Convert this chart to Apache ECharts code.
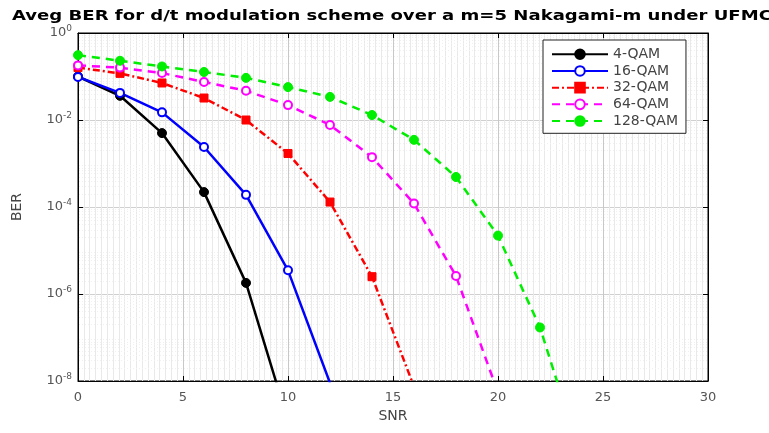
<!DOCTYPE html>
<html>
<head>
<meta charset="utf-8">
<script src="https://cdn.jsdelivr.net/npm/echarts@6/dist/echarts.min.js"></script>
<style>
  html, body { margin: 0; padding: 0; background: #fff; }
  #chart { width: 769px; height: 433px; }
</style>
</head>
<body>
<div id="chart"></div>
<script>
// SNR sample points (dB)
const snr = [0, 2, 4, 6, 8, 10, 12, 14, 16, 18, 20, 22, 24];

// Average BER per modulation order
const ber4qam   = [0.1, 0.036, 0.005, 2.2e-4, 1.8e-6, 1.2e-9];
const ber16qam  = [0.098, 0.042, 0.015, 0.0024, 1.9e-4, 3.5e-6, 9e-9];
const ber32qam  = [0.16, 0.118, 0.071, 0.032, 0.010, 0.0017, 1.3e-4, 2.5e-6, 7.4e-9];
const ber64qam  = [0.18, 0.16, 0.12, 0.075, 0.047, 0.022, 0.0077, 0.0014, 1.2e-4, 2.6e-6, 5.4e-9];
const ber128qam = [0.31, 0.23, 0.17, 0.127, 0.093, 0.057, 0.034, 0.013, 0.0035, 4.9e-4, 2.2e-5, 1.7e-7, 1.5e-10];

const seriesNames = ['4-QAM', '16-QAM', '32-QAM', '64-QAM', '128-QAM'];
const xTicks = [0, 5, 10, 15, 20, 25, 30];
const yTickExponents = [0, -2, -4, -6, -8];
const titleText = 'Aveg BER for d/t modulation scheme over a m=5 Nakagami-m under UFMC';

const FONT = 'DejaVu Sans';
const GRID = { left: 78, right: 61, top: 33, bottom: 52 };

function pairs(vals) {
  return vals.map((v, i) => [snr[i], v]);
}

function makeSeries(name, vals, color, lineType, symbol, size) {
  return {
    name: name,
    type: 'line',
    data: pairs(vals),
    clip: true,
    symbol: symbol,
    symbolSize: size,
    showAllSymbol: true,
    lineStyle: { color: color, width: 2.5, type: lineType },
    itemStyle: { color: color, borderColor: color, borderWidth: symbol === 'emptyCircle' ? 2.5 : 1 },
    emphasis: { disabled: true },
    z: 3
  };
}

const chart = echarts.init(document.getElementById('chart'), null, { renderer: 'canvas' });

const option = {
  animation: false,
  backgroundColor: '#fff',
  textStyle: { fontFamily: FONT },
  grid: Object.assign({ show: true, borderColor: '#000', borderWidth: 1, containLabel: false }, GRID),
  legend: {
    orient: 'vertical',
    left: 543,
    top: 40,
    itemWidth: 56,
    itemHeight: 12,
    itemGap: 2.2,
    padding: [7, 8, 5, 8],
    backgroundColor: '#fff',
    borderColor: '#222',
    borderWidth: 1,
    borderRadius: 0,
    textStyle: { fontFamily: FONT, fontSize: 14, lineHeight: 14.5, color: '#444' },
    data: seriesNames
  },
  xAxis: [
    {
      type: 'value',
      min: 0, max: 30, interval: 5,
      name: 'SNR',
      nameLocation: 'middle',
      nameGap: 27,
      nameTextStyle: { fontFamily: FONT, fontSize: 14, color: '#444' },
      axisLine: { show: true, onZero: false, lineStyle: { color: '#000', width: 1 } },
      axisTick: { show: true, inside: true, length: 5, lineStyle: { color: '#000' } },
      axisLabel: {
        fontFamily: FONT, fontSize: 13, color: '#555', margin: 10,
        formatter: v => (xTicks.indexOf(v) >= 0 ? String(v) : '')
      },
      splitLine: { show: true, lineStyle: { color: '#c8c8c8', width: 1 } },
      minorTick: { show: false, splitNumber: 18 },
      minorSplitLine: { show: true, lineStyle: { color: '#e9e9e9', width: 1 } }
    },
    {
      type: 'value',
      position: 'top',
      min: 0, max: 30, interval: 5,
      axisLine: { show: true, onZero: false, lineStyle: { color: '#000' } },
      axisTick: { show: true, inside: true, length: 5, lineStyle: { color: '#000' } },
      axisLabel: { show: false },
      splitLine: { show: false }
    }
  ],
  yAxis: [
    {
      type: 'log',
      logBase: 100,
      min: 1e-8, max: 1,
      name: 'BER',
      nameLocation: 'middle',
      nameGap: 54,
      nameRotate: 90,
      nameTextStyle: { fontFamily: FONT, fontSize: 14, color: '#444' },
      axisLine: { show: true, onZero: false, lineStyle: { color: '#000', width: 1 } },
      axisTick: { show: true, inside: true, length: 5, lineStyle: { color: '#000' } },
      axisLabel: {
        margin: 6,
        formatter: function (v) {
          const e = Math.round(Math.log10(v));
          if (yTickExponents.indexOf(e) < 0) return '';
          return '{b|10}{s|' + (e === 0 ? '0' : '-' + Math.abs(e)) + '}';
        },
        rich: {
          b: { fontFamily: FONT, fontSize: 13, color: '#555' },
          s: { fontFamily: FONT, fontSize: 9, color: '#555', padding: [0, 0, 9, 0] }
        }
      },
      splitLine: { show: true, lineStyle: { color: '#d0d0d0', width: 1 } }
    },
    {
      type: 'log',
      logBase: 100,
      min: 1e-8, max: 1,
      position: 'right',
      axisLine: { show: true, onZero: false, lineStyle: { color: '#000' } },
      axisTick: { show: true, inside: true, length: 5, lineStyle: { color: '#000' } },
      axisLabel: { show: false },
      splitLine: { show: false }
    }
  ],
  series: [
    makeSeries('4-QAM', ber4qam, '#000000', 'solid', 'circle', 9),
    makeSeries('16-QAM', ber16qam, '#0000ff', 'solid', 'emptyCircle', 8),
    makeSeries('32-QAM', ber32qam, '#ff0000', [7, 3, 2, 3], 'rect', 8),
    makeSeries('64-QAM', ber64qam, '#ff00ff', [8, 6], 'emptyCircle', 8),
    makeSeries('128-QAM', ber128qam, '#00ee00', [8, 6], 'circle', 9)
  ]
};

chart.setOption(option);

// Log-decade minor grid (2..9 x 10^k) behind the curves, plus the wide bold title
const extras = [];
const x0 = GRID.left, x1 = 769 - GRID.right;
for (let k = -8; k < 0; k++) {
  for (let m = 2; m <= 9; m++) {
    const y = chart.convertToPixel({ yAxisIndex: 0 }, m * Math.pow(10, k));
    extras.push({
      type: 'line',
      silent: true,
      z: 0,
      shape: { x1: x0 + 1, y1: Math.round(y) + 0.5, x2: x1 - 1, y2: Math.round(y) + 0.5 },
      style: { stroke: '#f0f0f0', lineWidth: 1, lineDash: [1, 2] }
    });
  }
}
extras.push({
  type: 'text',
  silent: true,
  x: 12,
  y: 16,
  scaleX: 1.29,
  style: {
    text: titleText,
    fontFamily: FONT,
    fontSize: 14,
    fontWeight: 'bold',
    fill: '#000',
    textAlign: 'left',
    textVerticalAlign: 'middle'
  }
});
chart.setOption({ graphic: extras });
</script>
</body>
</html>
